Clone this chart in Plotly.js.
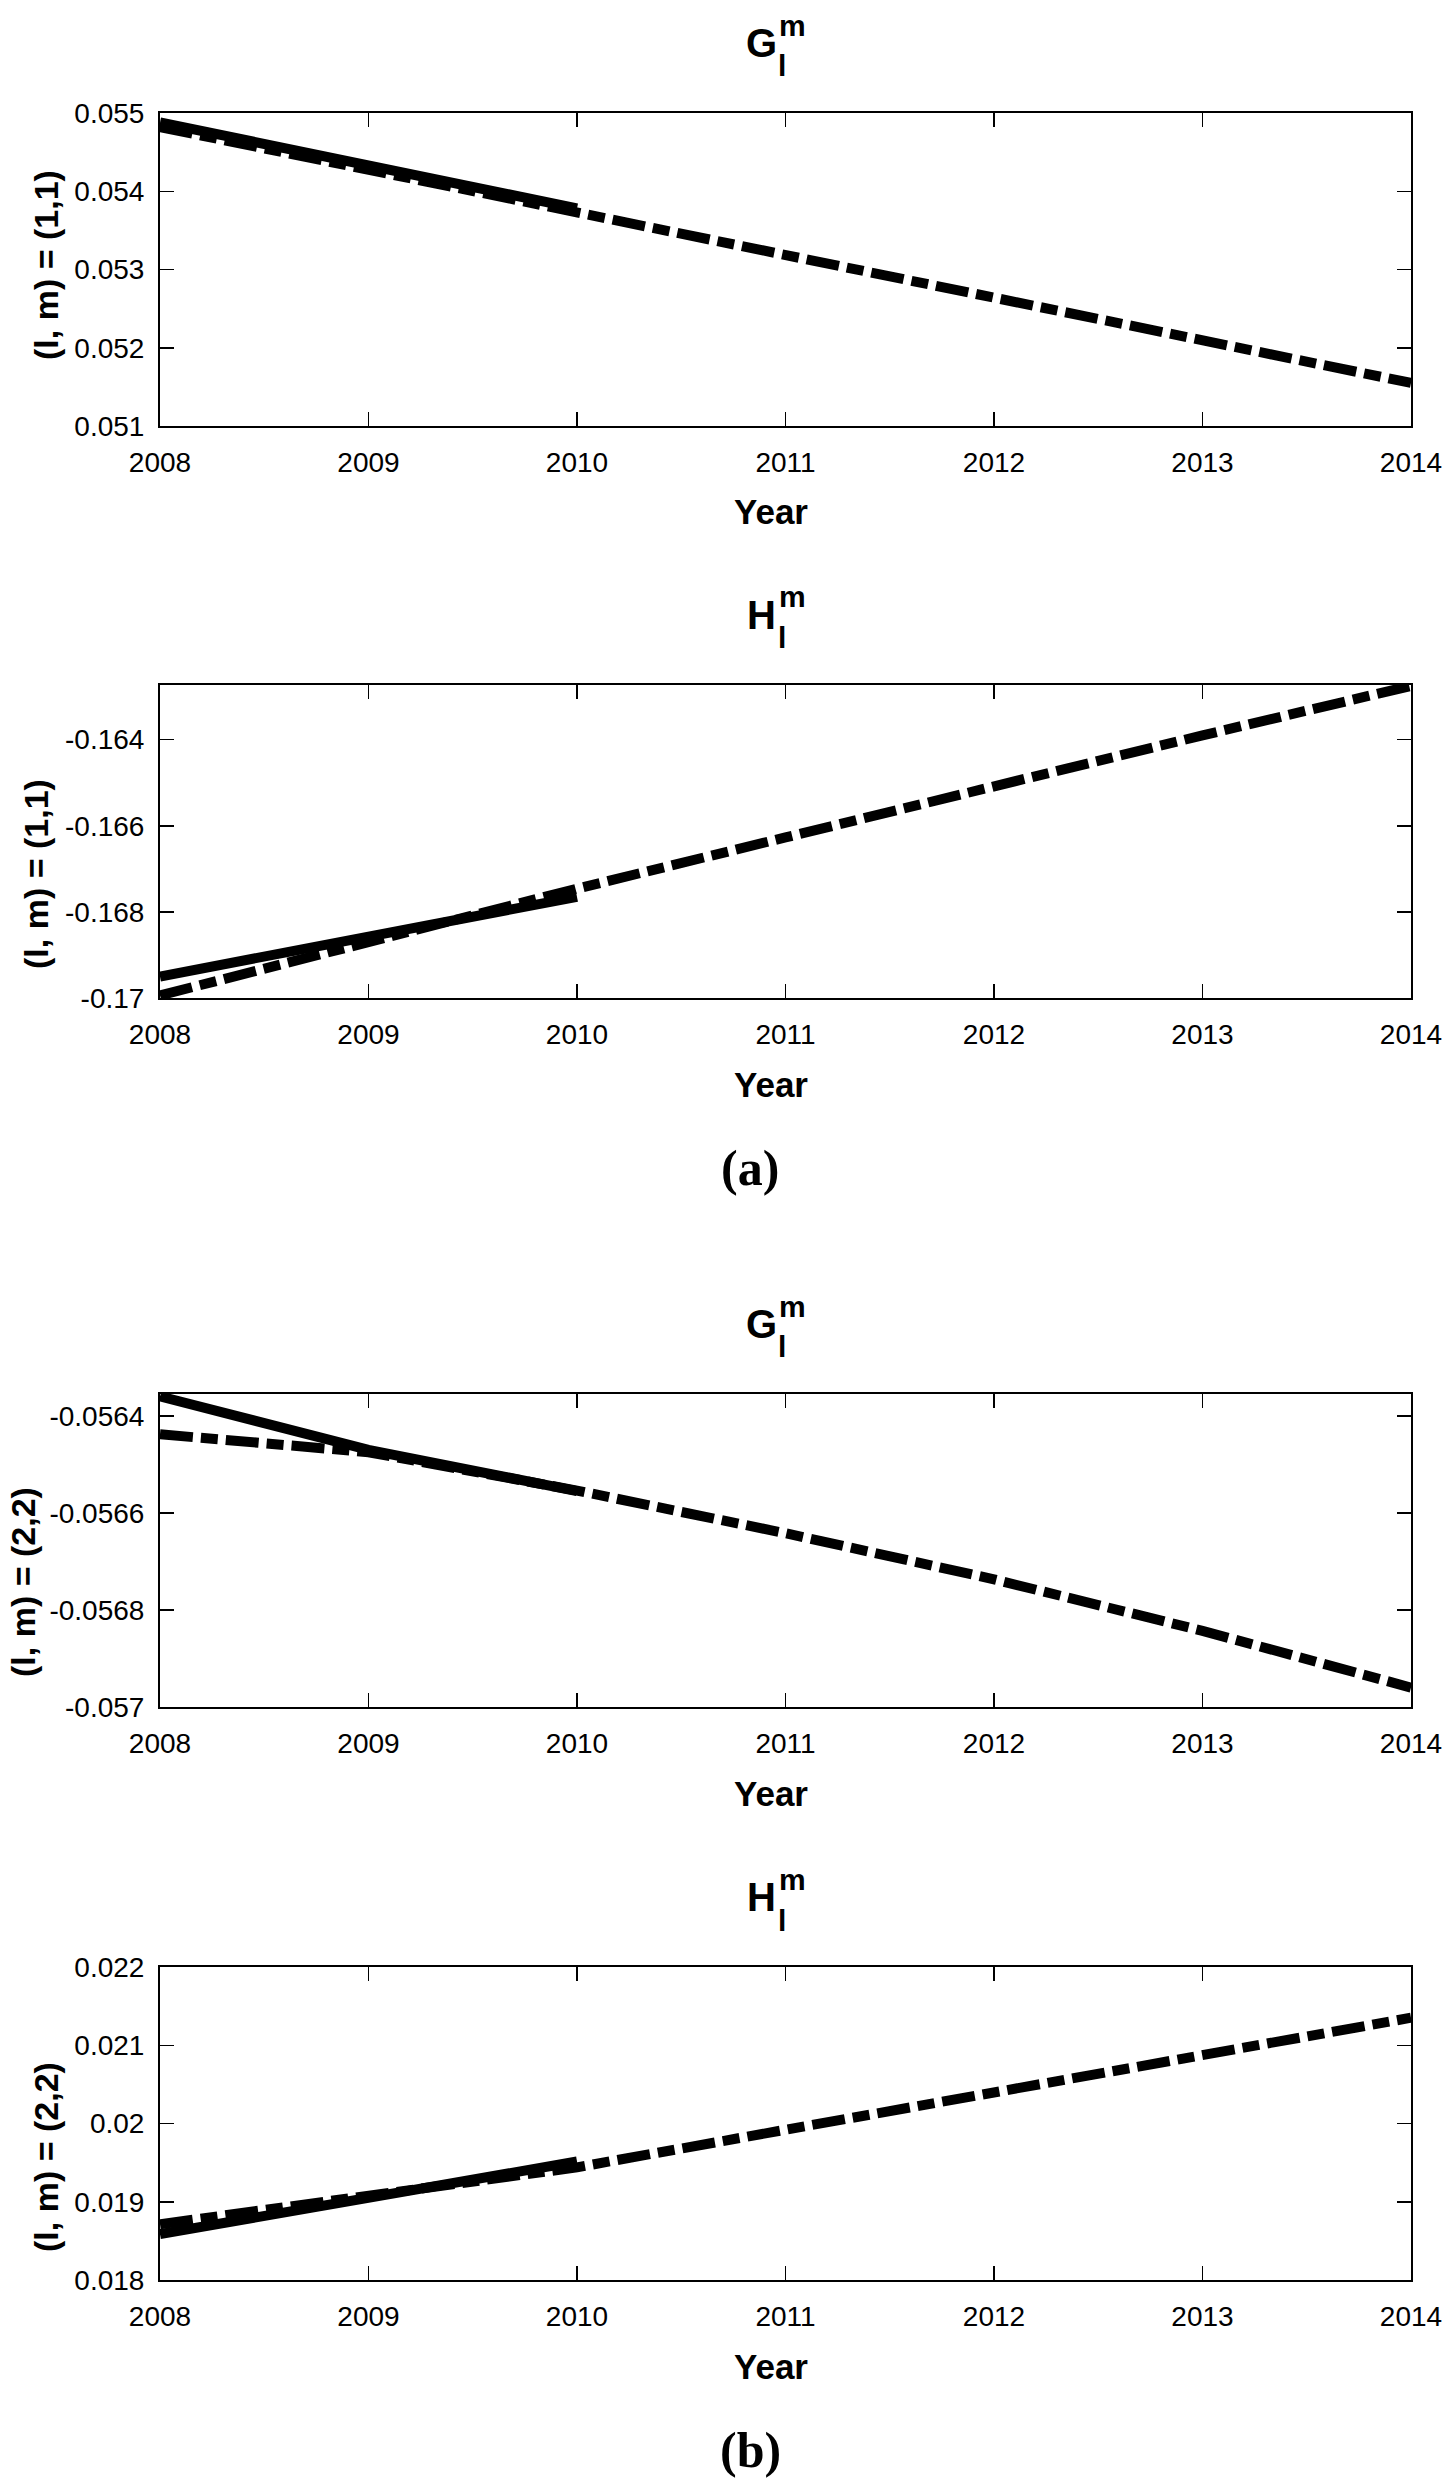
<!DOCTYPE html>
<html>
<head>
<meta charset="utf-8">
<script src="https://cdn.plot.ly/plotly-3.0.1.min.js"></script>
<style>
  html, body { margin: 0; padding: 0; background: #ffffff; }
  #chart { width: 1444px; height: 2482px; }
</style>
</head>
<body>
<div id="chart"></div>
<script>
// ---------- data ----------
const years = [2008, 2009, 2010, 2011, 2012, 2013, 2014];
const yearLabels = ["2008", "2009", "2010", "2011", "2012", "2013", "2014"];
const solidYears = [2008, 2009, 2010];

// (a) (l,m) = (1,1)
const g11Solid   = [0.05488, 0.05432, 0.05378];
const g11DashDot = [0.05482, 0.05428, 0.05374, 0.05320, 0.05265, 0.05211, 0.05155];
const h11Solid   = [-0.16950, -0.16856, -0.16765];
const h11DashDot = [-0.16994, -0.16867, -0.16746, -0.16627, -0.16507, -0.16390, -0.16275];

// (b) (l,m) = (2,2)
const g22Solid   = [-0.056360, -0.056470, -0.056555];
const g22DashDot = [-0.056438, -0.056475, -0.056554, -0.056642, -0.056737, -0.056843, -0.056960];
const h22Solid   = [0.018586, 0.019040, 0.019514];
const h22DashDot = [0.018713, 0.019070, 0.019440, 0.019920, 0.020400, 0.020880, 0.021351];

// tick values / labels
const g11Ticks = [0.051, 0.052, 0.053, 0.054, 0.055];
const g11TickText = ["0.051", "0.052", "0.053", "0.054", "0.055"];
const h11Ticks = [-0.17, -0.168, -0.166, -0.164];
const h11TickText = ["-0.17", "-0.168", "-0.166", "-0.164"];
const g22Ticks = [-0.057, -0.0568, -0.0566, -0.0564];
const g22TickText = ["-0.057", "-0.0568", "-0.0566", "-0.0564"];
const h22Ticks = [0.018, 0.019, 0.020, 0.021, 0.022];
const h22TickText = ["0.018", "0.019", "0.02", "0.021", "0.022"];

const yRanges = [[0.051, 0.055], [-0.17, -0.16273], [-0.057, -0.056355], [0.018, 0.022]];
const panelTitles = ["G", "H", "G", "H"];
const yTitles = ["(l, m) = (1,1)", "(l, m) = (1,1)", "(l, m) = (2,2)", "(l, m) = (2,2)"];
const subLabels = ["(a)", "(b)"];

// ---------- layout geometry (pixels) ----------
const W = 1444, H = 2482;
const plotLeft = 160, plotRight = 1411;
const panelTop = [113, 685, 1394, 1967];
const panelBottom = [426, 998, 1707, 2280];
const yTitleX = [46, 36, 23, 46];
const yTitleY = [265, 874, 1582, 2157];
const py = v => 1 - v / H;
const px = v => (v - plotLeft) / (plotRight - plotLeft);

const solidSets = [g11Solid, h11Solid, g22Solid, h22Solid];
const dashSets = [g11DashDot, h11DashDot, g22DashDot, h22DashDot];
const tickVals = [g11Ticks, h11Ticks, g22Ticks, h22Ticks];
const tickTexts = [g11TickText, h11TickText, g22TickText, h22TickText];

const lineW = 10;
const traces = [];
for (let i = 0; i < 4; i++) {
  const sfx = i === 0 ? "" : String(i + 1);
  traces.push({
    x: years, y: dashSets[i], type: "scatter", mode: "lines",
    xaxis: "x" + sfx, yaxis: "y" + sfx,
    line: { color: "#000000", width: lineW, dash: "33px,8px,17px,8px" },
    hoverinfo: "skip", showlegend: false
  });
  traces.push({
    x: solidYears, y: solidSets[i], type: "scatter", mode: "lines",
    xaxis: "x" + sfx, yaxis: "y" + sfx,
    line: { color: "#000000", width: lineW },
    hoverinfo: "skip", showlegend: false
  });
}

const sans = "Liberation Sans, Arial, Helvetica, sans-serif";
const tickFont = { family: sans, size: 28, color: "#000000" };
const layout = {
  width: W, height: H,
  margin: { l: plotLeft, r: W - plotRight, t: 0, b: 0, pad: 0 },
  paper_bgcolor: "#ffffff", plot_bgcolor: "#ffffff",
  showlegend: false,
  annotations: []
};

for (let i = 0; i < 4; i++) {
  const sfx = i === 0 ? "" : String(i + 1);
  const dom = [py(panelBottom[i]), py(panelTop[i])];
  layout["xaxis" + sfx] = {
    domain: [0, 1], anchor: "y" + sfx, range: [2008, 2014],
    tickmode: "array", tickvals: years, ticktext: yearLabels,
    ticks: "inside", ticklen: 14, tickwidth: 1.5, tickcolor: "#000000",
    showline: true, linecolor: "#000000", linewidth: 2, mirror: "ticks",
    showgrid: false, zeroline: false, tickfont: tickFont, ticklabelstandoff: 10
  };
  layout["yaxis" + sfx] = {
    domain: dom, anchor: "x" + sfx, range: yRanges[i],
    tickmode: "array", tickvals: tickVals[i], ticktext: tickTexts[i],
    ticks: "inside", ticklen: 14, tickwidth: 1.5, tickcolor: "#000000",
    showline: true, linecolor: "#000000", linewidth: 2, mirror: "ticks",
    showgrid: false, zeroline: false, tickfont: tickFont, ticklabelstandoff: 8
  };
  // panel title: letter with stacked superscript m and subscript l
  layout.annotations.push({
    xref: "paper", yref: "paper", x: px(761), y: py(panelTop[i] - 70),
    xanchor: "center", yanchor: "middle", showarrow: false,
    text: "<b>" + panelTitles[i] + "</b>",
    font: { family: sans, size: 40, color: "#000000" }
  });
  layout.annotations.push({
    xref: "paper", yref: "paper", x: px(777), y: py(panelTop[i] - 88),
    xanchor: "left", yanchor: "middle", showarrow: false,
    text: "<b>m</b>",
    font: { family: sans, size: 30, color: "#000000" }
  });
  layout.annotations.push({
    xref: "paper", yref: "paper", x: px(776), y: py(panelTop[i] - 47),
    xanchor: "left", yanchor: "middle", showarrow: false,
    text: "<b>l</b>",
    font: { family: sans, size: 30, color: "#000000" }
  });
  // x axis title
  layout.annotations.push({
    xref: "paper", yref: "paper", x: px(771), y: py(panelBottom[i] + 86),
    xanchor: "center", yanchor: "middle", showarrow: false,
    text: "<b>Year</b>",
    font: { family: sans, size: 35, color: "#000000" }
  });
  // y axis title
  layout.annotations.push({
    xref: "paper", yref: "paper", x: px(yTitleX[i]), y: py(yTitleY[i]),
    xanchor: "center", yanchor: "middle", showarrow: false, textangle: -90,
    text: "<b>" + yTitles[i] + "</b>",
    font: { family: sans, size: 34, color: "#000000" }
  });
}
// sub-figure labels
[1, 3].forEach((p, k) => {
  layout.annotations.push({
    xref: "paper", yref: "paper", x: px(750), y: py(panelBottom[p] + 170),
    xanchor: "center", yanchor: "middle", showarrow: false,
    text: "<b>" + subLabels[k] + "</b>",
    font: { family: "Liberation Serif, Times New Roman, serif", size: 50, color: "#000000" }
  });
});

Plotly.newPlot("chart", traces, layout, { staticPlot: true, displayModeBar: false });
</script>
</body>
</html>
